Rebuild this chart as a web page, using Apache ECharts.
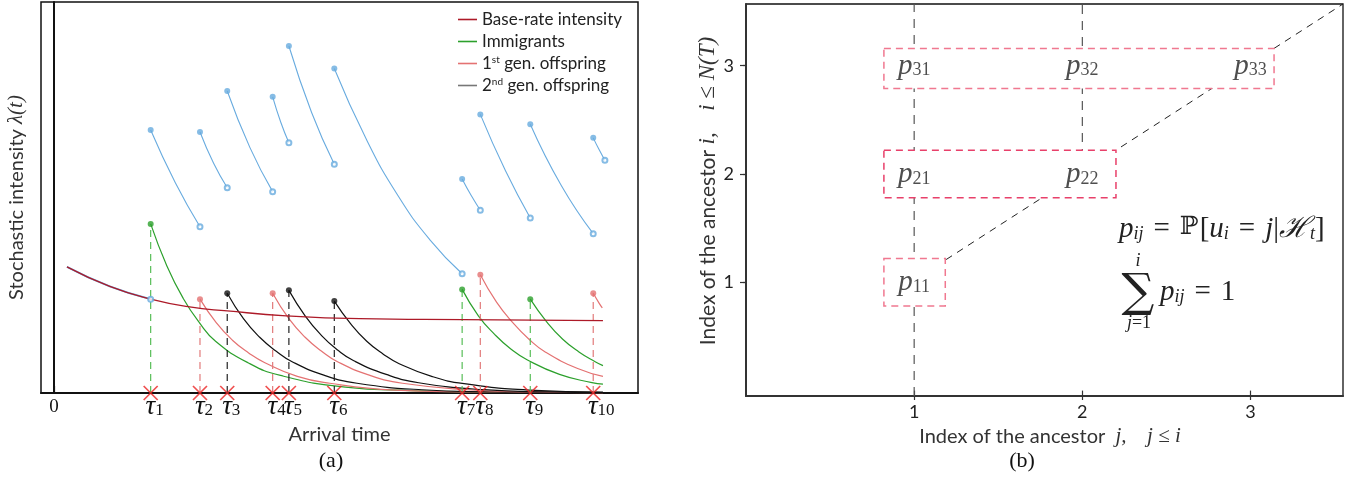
<!DOCTYPE html>
<html>
<head>
<meta charset="utf-8">
<script src="https://cdn.jsdelivr.net/npm/echarts@6/dist/echarts.min.js"></script>
<style>
  html, body { margin: 0; padding: 0; background: #fff; }
  #chart { width: 1350px; height: 478px; }
</style>
</head>
<body>
<div id="chart"></div>
<script>
// ---------- (a) Hawkes process: intensity and its branching decomposition ----------
const eventTimes = [1.49, 2.25, 2.67, 3.37, 3.62, 4.32, 6.29, 6.57, 7.34, 8.31];
const eventGeneration = ['imm', 'g1', 'g2', 'g1', 'g2', 'g2', 'imm', 'g1', 'imm', 'g1'];

const baseRate = [[0.2, 1.29], [0.86, 1.09], [1.49, 0.96], [2.09, 0.88], [2.67, 0.84],
                  [3.58, 0.79], [4.71, 0.76], [6.3, 0.75], [8.46, 0.74]];

// excitation kernel triggered by each event
const kernel1 = [[1.49, 1.73], [1.74, 1.30], [1.99, 0.97], [2.24, 0.72], [2.49, 0.53], [2.99, 0.31],
                 [3.49, 0.18], [4.49, 0.06], [5.49, 0.025], [6.49, 0.012], [8.46, 0.005]];
const kernel2 = [[2.25, 0.96], [2.5, 0.72], [2.75, 0.54], [3.0, 0.41], [3.25, 0.31], [3.75, 0.17],
                 [4.25, 0.10], [5.25, 0.03], [6.25, 0.012], [8.46, 0.004]];
const kernel3 = [[2.67, 1.02], [2.92, 0.76], [3.17, 0.57], [3.42, 0.43], [3.67, 0.32], [4.17, 0.18],
                 [4.67, 0.10], [5.67, 0.033], [6.67, 0.012], [8.46, 0.003]];
const kernel4 = [[3.37, 1.02], [3.62, 0.76], [3.87, 0.57], [4.12, 0.43], [4.37, 0.32], [4.87, 0.18],
                 [5.37, 0.10], [6.37, 0.033], [7.37, 0.011], [8.46, 0.004]];
const kernel5 = [[3.62, 1.05], [3.87, 0.79], [4.12, 0.59], [4.37, 0.44], [4.62, 0.33], [5.12, 0.19],
                 [5.62, 0.105], [6.62, 0.034], [7.62, 0.011], [8.46, 0.005]];
const kernel6 = [[4.32, 0.94], [4.57, 0.71], [4.82, 0.53], [5.07, 0.40], [5.32, 0.30], [5.82, 0.17],
                 [6.32, 0.095], [7.32, 0.03], [8.46, 0.009]];
const kernel7 = [[6.29, 1.06], [6.54, 0.79], [6.79, 0.60], [7.04, 0.45], [7.29, 0.34], [7.79, 0.19],
                 [8.29, 0.106], [8.46, 0.09]];
const kernel8 = [[6.57, 1.21], [6.82, 0.93], [7.07, 0.72], [7.32, 0.55], [7.57, 0.42], [8.07, 0.25],
                 [8.46, 0.17]];
const kernel9 = [[7.34, 0.96], [7.59, 0.73], [7.84, 0.55], [8.09, 0.42], [8.34, 0.32], [8.46, 0.28]];
const kernel10 = [[8.31, 1.02], [8.4, 0.92], [8.45, 0.87]];
const kernels = [kernel1, kernel2, kernel3, kernel4, kernel5, kernel6, kernel7, kernel8, kernel9, kernel10];

// conditional intensity between consecutive arrivals
const intensity0 = [[0.2, 1.29], [0.86, 1.09], [1.49, 0.96]];
const intensity1 = [[1.49, 2.69], [1.87, 2.15], [2.25, 1.70]];
const intensity2 = [[2.25, 2.67], [2.46, 2.35], [2.67, 2.10]];
const intensity3 = [[2.67, 3.09], [3.02, 2.51], [3.37, 2.06]];
const intensity4 = [[3.37, 3.03], [3.495, 2.77], [3.62, 2.56]];
const intensity5 = [[3.62, 3.55], [3.97, 2.87], [4.32, 2.34]];
const intensity6 = [[4.32, 3.32], [4.81, 2.60], [5.30, 2.02], [5.79, 1.57], [6.29, 1.22]];
const intensity7 = [[6.29, 2.19], [6.43, 2.02], [6.57, 1.87]];
const intensity8 = [[6.57, 2.85], [6.96, 2.27], [7.34, 1.79]];
const intensity9 = [[7.34, 2.75], [7.82, 2.12], [8.31, 1.63]];
const intensity10 = [[8.31, 2.61], [8.4, 2.49], [8.49, 2.38]];
const intensitySegments = [intensity1, intensity2, intensity3, intensity4, intensity5,
                           intensity6, intensity7, intensity8, intensity9, intensity10];

// ---------- (b) ancestor probabilities p_ij ----------
const ancestorTicks = [1, 2, 3];
const probCells = [[1, 1], [1, 2], [2, 2], [1, 3], [2, 3], [3, 3]];      // [j, i]
const rowBoxes = [[0.82, 0.78, 1.185, 1.22], [0.82, 1.78, 2.2, 2.22], [0.82, 2.79, 3.14, 3.16]]; // [j0, i0, j1, i1]
const ancestorGuides = [[[1, -0.05], [1, 3.57]], [[2, 2], [2, 3.57]]];
const diagonalGuide = [[1.19, 1.21], [3.55, 3.57]];

// ---------- styling ----------
const SANS = 'Lato, "Noto Sans", sans-serif';
const SERIF = '"Liberation Serif", "DejaVu Serif", serif';
const genColor = { imm: '#2ca02c', g1: '#e47272', g2: '#111111' };
const genDash = { imm: '#57bd57', g1: '#e27a7a', g2: '#222222' };
const genName = { imm: 'Immigrants', g1: '1st gen. offspring', g2: '2nd gen. offspring' };
const BASE_COLOR = '#ad1a28';
const TOTAL_COLOR = '#68abdf';
const boxStroke = ['#f07890', '#e8406a', '#f07890'];
const SMOOTH = 0.5;

const series = [];

// decomposition: kernels, dashed arrival guides, kernel start dots
eventTimes.forEach((t, k) => {
  const g = eventGeneration[k];
  const curve = kernels[k];
  series.push({
    type: 'line', name: genName[g], xAxisIndex: 0, yAxisIndex: 0,
    data: curve, smooth: SMOOTH, symbol: 'none',
    lineStyle: { color: genColor[g], width: 1.2 }, itemStyle: { color: genColor[g] },
    z: 2, silent: true
  });
  series.push({
    type: 'line', name: 'arrival-' + k, xAxisIndex: 0, yAxisIndex: 0,
    data: [[t, 0], [t, curve[0][1]]], symbol: 'none',
    lineStyle: { color: genDash[g], width: 1.2, type: [7, 5] }, z: 2, silent: true
  });
});
series.push({
  type: 'scatter', name: 'kernel-start', xAxisIndex: 0, yAxisIndex: 0,
  data: kernels.map((c, k) => ({ value: c[0], itemStyle: { color: genColor[eventGeneration[k]] } })),
  symbolSize: 6, z: 5, silent: true
});

series.push({
  type: 'line', name: 'intensity-pre', xAxisIndex: 0, yAxisIndex: 0,
  data: intensity0, smooth: SMOOTH, symbol: 'none',
  lineStyle: { color: TOTAL_COLOR, width: 1.8 }, z: 3, silent: true
});
series.push({
  type: 'line', name: 'Base-rate intensity', xAxisIndex: 0, yAxisIndex: 0,
  data: baseRate, smooth: SMOOTH, symbol: 'none',
  lineStyle: { color: BASE_COLOR, width: 1.3 }, itemStyle: { color: BASE_COLOR }, z: 4, silent: true
});

intensitySegments.forEach((seg, k) => {
  series.push({
    type: 'line', name: 'intensity-' + k, xAxisIndex: 0, yAxisIndex: 0,
    data: seg, smooth: SMOOTH, symbol: 'none',
    lineStyle: { color: TOTAL_COLOR, width: 1.1 }, z: 4, silent: true
  });
});
series.push({
  type: 'scatter', name: 'intensity-after', xAxisIndex: 0, yAxisIndex: 0,
  data: intensitySegments.map(s => s[0]), symbolSize: 6,
  itemStyle: { color: TOTAL_COLOR }, z: 6, silent: true
});
series.push({
  type: 'scatter', name: 'intensity-before', xAxisIndex: 0, yAxisIndex: 0,
  data: [intensity0[intensity0.length - 1]].concat(intensitySegments.slice(0, -1).map(s => s[s.length - 1]))
        .concat([intensity10[intensity10.length - 1]]),
  symbol: 'emptyCircle', symbolSize: 5,
  itemStyle: { color: TOTAL_COLOR, borderWidth: 1.1 }, z: 6, silent: true
});

series.push({
  type: 'scatter', name: 'arrivals', xAxisIndex: 0, yAxisIndex: 0,
  data: eventTimes.map(t => [t, 0]), symbol: 'path://M0,0L10,10M10,0L0,10', symbolSize: 14,
  itemStyle: { color: 'none', borderColor: '#ec2424', borderWidth: 1.7 }, clip: false, z: 8, silent: true
});

// panel (b)
ancestorGuides.forEach((g, k) => {
  series.push({
    type: 'line', name: 'guide-' + k, xAxisIndex: 1, yAxisIndex: 1, data: g, symbol: 'none',
    lineStyle: { color: '#555', width: 1.2, type: [9, 7] }, z: 1, silent: true
  });
});
series.push({
  type: 'line', name: 'diagonal', xAxisIndex: 1, yAxisIndex: 1, data: diagonalGuide, symbol: 'none',
  lineStyle: { color: '#222', width: 1, type: [7, 6] }, z: 1, silent: true
});
series.push({
  type: 'custom', name: 'rows', xAxisIndex: 1, yAxisIndex: 1, coordinateSystem: 'cartesian2d',
  data: rowBoxes, encode: { x: [0, 2], y: [1, 3] }, z: 3, silent: true,
  renderItem: (params, api) => {
    const a = api.coord([api.value(0), api.value(3)]);
    const b = api.coord([api.value(2), api.value(1)]);
    return {
      type: 'rect',
      shape: { x: a[0], y: a[1], width: b[0] - a[0], height: b[1] - a[1] },
      style: { fill: '#fff', stroke: boxStroke[params.dataIndex], lineWidth: 1.5, lineDash: [7, 5] }
    };
  }
});
series.push({
  type: 'scatter', name: 'cells', xAxisIndex: 1, yAxisIndex: 1, data: probCells,
  symbolSize: 1, itemStyle: { color: 'rgba(0,0,0,0)' }, z: 5, silent: true,
  label: {
    show: true, position: 'inside',
    formatter: p => '{p|p}{s|' + p.value[1] + p.value[0] + '}',
    rich: {
      p: { fontFamily: SERIF, fontStyle: 'italic', fontSize: 29, lineHeight: 28, verticalAlign: 'top', color: '#222' },
      s: { fontFamily: SERIF, fontSize: 18, lineHeight: 18, verticalAlign: 'bottom', padding: [9, 0, 0, 0], color: '#222' }
    }
  }
});

const legendRich = { sup: { fontSize: 10, lineHeight: 10, verticalAlign: 'top', fontFamily: SANS, color: '#222' } };

// rich styles for the formulas in panel (b)
const mathRich = {
  m: { fontFamily: SERIF, fontStyle: 'italic', fontSize: 29, lineHeight: 28, verticalAlign: 'top', fill: '#222' },
  r: { fontFamily: SERIF, fontSize: 29, lineHeight: 28, verticalAlign: 'top', fill: '#222' },
  e: { fontFamily: SERIF, fontSize: 29, lineHeight: 28, verticalAlign: 'top', padding: [0, 10, 0, 10], fill: '#222' },
  b: { fontFamily: '"DejaVu Serif", serif', fontSize: 25, lineHeight: 28, verticalAlign: 'top', padding: [0, 1, 0, 0], fill: '#222' },
  s: { fontFamily: SERIF, fontStyle: 'italic', fontSize: 18, lineHeight: 18, verticalAlign: 'bottom', padding: [10, 0, 0, 0], fill: '#222' }
};

const option = {
  animation: false,
  backgroundColor: '#fff',
  grid: [
    { left: 41, top: 2, width: 597, height: 391, show: true, borderColor: '#111', borderWidth: 1.5 },
    { left: 746, top: 4, width: 597, height: 392, show: true, borderColor: '#111', borderWidth: 1.3 }
  ],
  xAxis: [
    {
      type: 'value', gridIndex: 0, min: -0.2, max: 9,
      axisLine: { show: true, onZero: false, lineStyle: { color: '#111', width: 2 } },
      splitLine: { show: false },
      axisTick: { show: true, customValues: [0], inside: true, length: 7, lineStyle: { color: '#111', width: 1.2 } },
      axisLabel: {
        customValues: [0].concat(eventTimes), margin: 0, color: '#111',
        formatter: v => {
          const k = eventTimes.indexOf(v);
          if (k < 0) return '{z|0}';
          const n = String(k + 1);
          return '{sp' + n.length + '|}{t|τ}{s|' + n + '}';
        },
        rich: {
          z: { fontFamily: SERIF, fontSize: 19, lineHeight: 26, verticalAlign: 'top', padding: [5, 0, 0, 0], color: '#111' },
          t: { fontFamily: SERIF, fontStyle: 'italic', fontSize: 27, lineHeight: 26, verticalAlign: 'top', color: '#111' },
          s: { fontFamily: SERIF, fontSize: 17, lineHeight: 17, verticalAlign: 'bottom', padding: [12, 0, 0, 0], color: '#111' },
          sp1: { width: 8 }, sp2: { width: 16 }
        }
      },
      name: 'Arrival time', nameLocation: 'middle', nameGap: 32,
      nameTextStyle: { fontFamily: SANS, fontSize: 20, color: '#333', verticalAlign: 'top' }
    },
    {
      type: 'value', gridIndex: 1, min: 0, max: 3.55,
      axisLine: { show: true, onZero: false, lineStyle: { color: '#333', width: 2 } },
      splitLine: { show: false },
      axisTick: { show: true, customValues: ancestorTicks, length: 4, lineStyle: { color: '#333', width: 1.2 } },
      axisLabel: { customValues: ancestorTicks, margin: 7, fontFamily: SANS, fontSize: 18, color: '#222' },
      name: '{s|Index of the ancestor  }{m|j,}{s|    }{m|j ≤ i}', nameLocation: 'middle', nameGap: 30,
      nameTextStyle: {
        verticalAlign: 'top', padding: [0, 0, 0, 11],
        rich: {
          s: { fontFamily: SANS, fontSize: 20, color: '#333' },
          m: { fontFamily: SERIF, fontStyle: 'italic', fontSize: 21, color: '#333' }
        }
      }
    },
    {
      type: 'value', gridIndex: 1, min: 0, max: 3.55,
      axisLine: { show: false }, splitLine: { show: false }, axisLabel: { show: false },
      axisTick: { show: true, customValues: ancestorTicks, inside: true, length: 6, lineStyle: { color: '#333', width: 1.2 } }
    }
  ],
  yAxis: [
    {
      type: 'value', gridIndex: 0, min: 0, max: 4,
      axisLine: { show: true, lineStyle: { color: '#111', width: 2 } },
      axisTick: { show: false }, axisLabel: { show: false }, splitLine: { show: false },
      name: '{s|Stochastic intensity }{m|λ(t)}', nameLocation: 'middle', nameGap: 14, nameRotate: 90,
      nameTextStyle: {
        rich: {
          s: { fontFamily: SANS, fontSize: 20, color: '#333' },
          m: { fontFamily: SERIF, fontStyle: 'italic', fontSize: 21, color: '#333' }
        }
      }
    },
    {
      type: 'value', gridIndex: 1, min: -0.05, max: 3.57,
      axisLine: { show: true, lineStyle: { color: '#333', width: 2 } },
      splitLine: { show: false },
      axisTick: { show: true, customValues: ancestorTicks, length: 3, lineStyle: { color: '#333', width: 1.2 } },
      axisLabel: { customValues: ancestorTicks, margin: 12, fontFamily: SANS, fontSize: 18, color: '#222' },
      name: '{s|Index of the ancestor }{m|i,}{s|    }{m|i ≤ N(T)}', nameLocation: 'middle', nameGap: 26, nameRotate: 90,
      nameTextStyle: {
        padding: [0, 0, 0, 18],
        rich: {
          s: { fontFamily: SANS, fontSize: 21, color: '#333' },
          m: { fontFamily: SERIF, fontStyle: 'italic', fontSize: 23, color: '#333' }
        }
      }
    },
    {
      type: 'value', gridIndex: 1, min: -0.05, max: 3.57,
      axisLine: { show: false }, splitLine: { show: false }, axisLabel: { show: false },
      axisTick: { show: true, customValues: ancestorTicks, inside: true, length: 6, lineStyle: { color: '#333', width: 1.2 } }
    }
  ],
  legend: {
    left: 453, top: 6, orient: 'vertical', icon: 'rect', itemWidth: 19, itemHeight: 1.6, itemGap: 5,
    selectedMode: false,
    data: [
      { name: 'Base-rate intensity', itemStyle: { color: BASE_COLOR } },
      { name: 'Immigrants', itemStyle: { color: genColor.imm } },
      { name: '1st gen. offspring', itemStyle: { color: genColor.g1 } },
      { name: '2nd gen. offspring', itemStyle: { color: '#777' } }
    ],
    formatter: n => n.replace(/^1st/, '1{sup|st}').replace(/^2nd/, '2{sup|nd}'),
    textStyle: { fontFamily: SANS, fontSize: 17, color: '#222', padding: [0, 0, 0, 0], rich: legendRich }
  },
  graphic: [
    { type: 'text', x: 331, y: 461, style: { text: '(a)', font: '22px "Liberation Serif"', fill: '#111', align: 'center', verticalAlign: 'middle' } },
    { type: 'text', x: 1022, y: 461, style: { text: '(b)', font: '22px "Liberation Serif"', fill: '#111', align: 'center', verticalAlign: 'middle' } },
    {
      type: 'text', x: 1119, y: 229,
      style: {
        text: '{m|p}{s|ij}{e|=}{b|ℙ}{r|[}{m|u}{s|i}{e|=}{m|j}{r||}{m|ℋ}{s|t}{r|]}',
        align: 'left', verticalAlign: 'middle', rich: mathRich
      }
    },
    { type: 'text', x: 1138, y: 261, style: { text: 'i', font: 'italic 18px "Liberation Serif"', fill: '#222', align: 'center', verticalAlign: 'middle' } },
    { type: 'text', x: 1138, y: 294, style: { text: '∑', font: '46px "DejaVu Serif"', fill: '#222', align: 'center', verticalAlign: 'middle' } },
    {
      type: 'text', x: 1139, y: 323,
      style: {
        text: '{m|j}{r|=1}', align: 'center', verticalAlign: 'middle',
        rich: {
          m: { fontFamily: SERIF, fontStyle: 'italic', fontSize: 18, fill: '#222' },
          r: { fontFamily: SERIF, fontSize: 18, fill: '#222' }
        }
      }
    },
    {
      type: 'text', x: 1160, y: 292,
      style: { text: '{m|p}{s|ij}{e|=}{r|1}', align: 'left', verticalAlign: 'middle', rich: mathRich }
    }
  ],
  series: series
};

const chart = echarts.init(document.getElementById('chart'));
chart.setOption(option);
</script>
</body>
</html>
